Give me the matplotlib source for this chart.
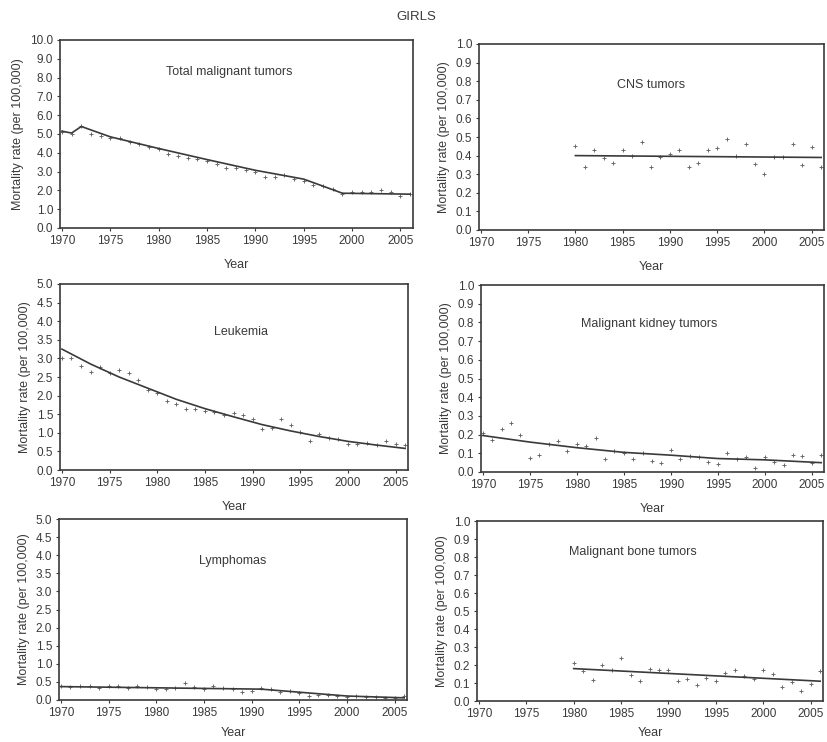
import matplotlib
matplotlib.use('Agg')
import matplotlib.pyplot as plt

plt.rcParams['font.family'] = ['Liberation Sans', 'DejaVu Sans']

W, H = 827, 742
INK = '#3a3a3a'
DOT = '#6a6a6a'

# Total malignant tumors
total_years = list(range(1970, 2007))
total_rates = [5.1, 5.0, 5.4, 5.0, 4.9, 4.8, 4.8, 4.6, 4.45, 4.3, 4.2, 3.95, 3.85, 3.7,
               3.65, 3.55, 3.4, 3.2, 3.2, 3.1, 3.0, 2.7, 2.7, 2.8, 2.6, 2.5, 2.3, 2.25,
               2.1, 1.8, 1.9, 1.9, 1.9, 2.0, 1.9, 1.7, 1.8]
total_fit_years = [1970, 1971, 1972, 1975, 1980, 1985, 1990, 1995, 1999, 2006]
total_fit = [5.15, 5.05, 5.4, 4.85, 4.23, 3.64, 3.07, 2.6, 1.85, 1.8]

# CNS tumors
cns_years = list(range(1980, 2007))
cns_rates = [0.45, 0.34, 0.43, 0.385, 0.36, 0.43, 0.40, 0.475, 0.34, 0.39, 0.41,
             0.43, 0.34, 0.36, 0.43, 0.44, 0.49, 0.40, 0.46, 0.355, 0.30, 0.39,
             0.39, 0.465, 0.35, 0.445, 0.34]
cns_fit_years = [1980, 2006]
cns_fit = [0.40, 0.39]

# Leukemia
leuk_years = list(range(1970, 2007))
leuk_rates = [3.0, 3.0, 2.8, 2.64, 2.76, 2.6, 2.68, 2.62, 2.41, 2.15, 2.07, 1.85,
              1.78, 1.64, 1.65, 1.59, 1.55, 1.47, 1.53, 1.49, 1.38, 1.09, 1.13,
              1.36, 1.2, 1.02, 0.77, 0.97, 0.86, 0.84, 0.69, 0.70, 0.72, 0.68,
              0.77, 0.70, 0.66]
leuk_fit_years = [1970, 1973, 1976, 1979, 1982, 1985, 1988, 1991, 1994, 1997,
                  2000, 2003, 2006]
leuk_fit = [3.25, 2.85, 2.5, 2.2, 1.9, 1.65, 1.43, 1.22, 1.05, 0.9, 0.77, 0.67, 0.58]

# Malignant kidney tumors
kid_years = list(range(1970, 2007))
kid_rates = [0.21, 0.17, 0.23, 0.26, 0.20, 0.075, 0.09, 0.15, 0.165, 0.11, 0.15,
             0.14, 0.18, 0.07, 0.11, 0.10, 0.07, 0.10, 0.057, 0.05, 0.12, 0.07,
             0.085, 0.08, 0.054, 0.043, 0.10, 0.07, 0.08, 0.02, 0.08, 0.052,
             0.04, 0.093, 0.088, 0.047, 0.09]
kid_fit_years = [1970, 1975, 1980, 1985, 1990, 1995, 2000, 2006]
kid_fit = [0.195, 0.16, 0.13, 0.105, 0.09, 0.072, 0.065, 0.05]

# Lymphomas
lym_years = list(range(1970, 2007))
lym_rates = [0.38, 0.35, 0.38, 0.40, 0.33, 0.38, 0.40, 0.33, 0.40, 0.36, 0.30,
             0.30, 0.33, 0.48, 0.35, 0.30, 0.38, 0.33, 0.30, 0.22, 0.25, 0.32,
             0.30, 0.22, 0.25, 0.18, 0.10, 0.15, 0.14, 0.12, 0.08, 0.12, 0.08,
             0.07, 0.06, 0.06, 0.12]
lym_fit_years = [1970, 1991, 2000, 2006]
lym_fit = [0.37, 0.30, 0.11, 0.06]

# Malignant bone tumors
bone_years = list(range(1980, 2007))
bone_rates = [0.21, 0.165, 0.115, 0.20, 0.17, 0.24, 0.146, 0.11, 0.18, 0.175,
              0.175, 0.11, 0.12, 0.09, 0.13, 0.11, 0.155, 0.17, 0.14, 0.12,
              0.17, 0.15, 0.078, 0.105, 0.055, 0.096, 0.167]
bone_fit_years = [1980, 2006]
bone_fit = [0.18, 0.11]

panels = [
    # title, years, rates, fit years, fit, ymax, ystep, box (l, t, r, b px), title pos, xlabel pad
    ('Total malignant tumors', total_years, total_rates, total_fit_years, total_fit,
     10.0, 1.0, (60, 40, 413, 228), (0.48, 0.83), 9),
    ('CNS tumors', cns_years, cns_rates, cns_fit_years, cns_fit,
     1.0, 0.1, (479, 44, 824, 230), (0.50, 0.78), 9),
    ('Leukemia', leuk_years, leuk_rates, leuk_fit_years, leuk_fit,
     5.0, 0.5, (60, 284, 408, 470), (0.52, 0.74), 9),
    ('Malignant kidney tumors', kid_years, kid_rates, kid_fit_years, kid_fit,
     1.0, 0.1, (481, 285, 824, 472), (0.49, 0.79), 9),
    ('Lymphomas', lym_years, lym_rates, lym_fit_years, lym_fit,
     5.0, 0.5, (59, 519, 407, 700), (0.50, 0.77), 6),
    ('Malignant bone tumors', bone_years, bone_rates, bone_fit_years, bone_fit,
     1.0, 0.1, (477, 521, 823, 701), (0.45, 0.83), 5),
]

fig = plt.figure(figsize=(W / 100, H / 100), dpi=100)
fig.text(416 / W, 1 - 17 / H, 'GIRLS', ha='center', va='center', fontsize=9.5, color=INK)

for title, yrs, vals, fyrs, fvals, ymax, ystep, box, tpos, xpad in panels:
    l, t, r, b = box
    ax = fig.add_axes([l / W, 1 - b / H, (r - l) / W, (b - t) / H])
    ax.plot(yrs, vals, linestyle='none', marker='+', markersize=3.5,
            markeredgewidth=0.7, color=DOT)
    ax.plot(fyrs, fvals, color=INK, linewidth=1.2)
    ax.set_xlim(1969.8, 2006.3)
    ax.set_ylim(0, ymax)
    ax.set_xticks(range(1970, 2006, 5))
    nt = int(round(ymax / ystep))
    ax.set_yticks([i * ystep for i in range(nt + 1)])
    ax.set_yticklabels(['%.1f' % (i * ystep) for i in range(nt + 1)])
    ax.tick_params(axis='both', labelsize=8.5, colors=INK, length=2, width=0.8, pad=3)
    for s in ax.spines.values():
        s.set_color(INK)
        s.set_linewidth(1.2)
    ax.set_xlabel('Year', fontsize=9, color=INK, labelpad=xpad)
    ax.set_ylabel('Mortality rate (per 100,000)', fontsize=9, color=INK, labelpad=4)
    ax.text(tpos[0], tpos[1], title, transform=ax.transAxes, ha='center',
            va='center', fontsize=9, color=INK)

fig.savefig('out.png', dpi=100)
